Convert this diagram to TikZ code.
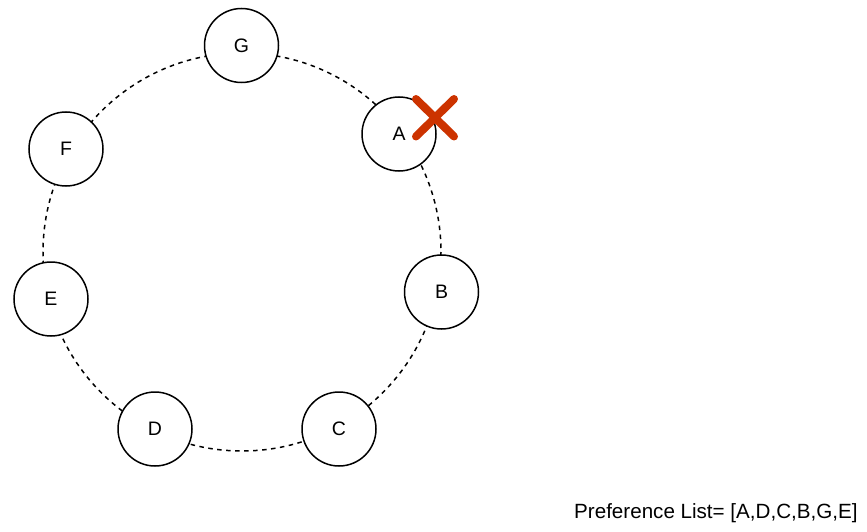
\documentclass[tikz,border=0pt]{standalone}
\usepackage{fontspec}
\setmainfont{Liberation Sans}
\definecolor{crossred}{RGB}{204,51,0}
\begin{document}
\begin{tikzpicture}[x=1pt,y=-1pt,
  ringnode/.style={circle,draw=black,line width=1.5pt,fill=white,minimum size=74pt,inner sep=0pt,font=\fontsize{19.5}{21}\selectfont},
  ringline/.style={draw=black,line width=1.5pt,dash pattern=on 4.5pt off 4.5pt},
  crossline/.style={draw=crossred,line width=8pt,line cap=round}]
\useasboundingbox (0,0) rectangle (867,532);
\coordinate (ctr) at (242,252);
\draw[ringline] (ctr) circle[radius=199];
\node[ringnode] (G) at (241.5,45.5) {G};
\node[ringnode] (A) at (399,134) {A};
\node[ringnode] (B) at (441.5,292) {B};
\node[ringnode] (C) at (339,429) {C};
\node[ringnode] (D) at (155,429) {D};
\node[ringnode] (E) at (51,299) {E};
\node[ringnode] (F) at (66,149) {F};
\coordinate (x1) at (416,99);
\coordinate (x2) at (454,136.5);
\coordinate (x3) at (416,136.5);
\coordinate (x4) at (454,99);
\draw[crossline] (x1) -- (x2);
\draw[crossline] (x3) -- (x4);
\node[anchor=base west,inner sep=0pt,font=\fontsize{20.6}{22}\selectfont] (pref) at (574,518) {Preference List= [A,D,C,B,G,E]};
\end{tikzpicture}
\end{document}
